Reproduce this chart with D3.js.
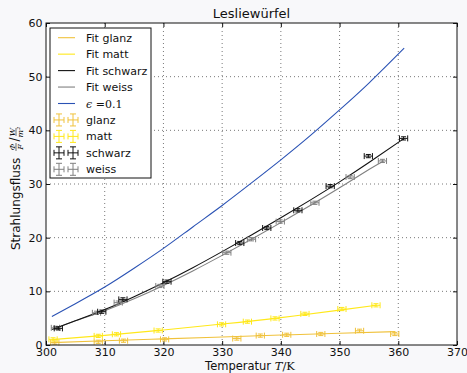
<!DOCTYPE html>
<html>
<head>
<meta charset="utf-8">
<script src="https://cdn.jsdelivr.net/npm/d3@7"></script>
<style>
  body { margin: 0; background: #f8f8fa; }
  svg { display: block; font-family: "DejaVu Sans", sans-serif; }
</style>
</head>
<body>
<svg id="chart" width="467" height="373"></svg>
<script>
// fit curves
const fitSchwarzT = [301, 305, 310, 315, 320, 325, 330, 335, 340, 345, 350, 355, 361];
const fitSchwarzV = [2.9, 4.5, 6.6, 9.0, 11.6, 14.4, 17.4, 20.5, 23.7, 27.0, 30.4, 34.0, 38.5];
const fitWeissT = [301.5, 305, 310, 315, 320, 325, 330, 335, 340, 345, 350, 355, 357.5];
const fitWeissV = [3.0, 4.5, 6.4, 8.6, 11.1, 13.8, 16.7, 19.7, 22.8, 26.0, 29.3, 32.7, 34.3];
const fitMattT = [301, 310, 320, 330, 340, 350, 356.3];
const fitMattV = [1.0, 1.8, 2.8, 3.9, 5.1, 6.5, 7.4];
const fitGlanzT = [301, 310, 320, 330, 340, 350, 359.5];
const fitGlanzV = [0.45, 0.8, 1.15, 1.5, 1.85, 2.2, 2.5];
const epsT = [301, 305, 310, 315, 320, 325, 330, 335, 340, 345, 350, 355, 361];
const epsV = [5.3, 7.7, 10.8, 14.3, 18.0, 22.0, 26.0, 30.2, 34.5, 39.0, 43.8, 48.8, 55.3];

// measured points
const glanzT = [301.5, 308.9, 313.2, 320.2, 332.5, 336.5, 341.0, 346.8, 353.4, 359.4];
const glanzV = [0.45, 0.6, 0.8, 1.05, 1.2, 1.75, 1.9, 2.05, 2.65, 2.05];
const mattT = [301.2, 308.9, 312.0, 319.1, 329.9, 334.3, 339.0, 344.1, 350.4, 356.2];
const mattV = [1.05, 1.7, 2.0, 2.7, 3.85, 4.35, 4.95, 5.8, 6.7, 7.4];
const schwarzT = [302.1, 309.5, 313.1, 320.6, 333.0, 337.6, 342.9, 348.4, 354.9, 360.9];
const schwarzV = [3.1, 6.2, 8.5, 11.8, 19.0, 21.8, 25.1, 29.6, 35.2, 38.5];
const weissT = [301.6, 308.6, 312.3, 319.4, 330.8, 335.0, 339.9, 345.8, 351.8, 357.3];
const weissV = [3.2, 6.0, 7.9, 11.0, 17.2, 19.7, 23.0, 26.5, 31.3, 34.3];
const xErr = 0.7;
const yErr = 0.3;

const xTicks = [300, 310, 320, 330, 340, 350, 360, 370];
const yTicks = [0, 10, 20, 30, 40, 50, 60];

const colGlanz = "#f0c23c";
const colMatt = "#ffe81a";
const colSchwarz = "#111111";
const colWeiss = "#808080";
const colEps = "#2a52b4";

const svg = d3.select("#chart");
const plotLeft = 46, plotRight = 457, plotTop = 23, plotBottom = 345;

const x = d3.scaleLinear().domain([300, 370]).range([plotLeft, plotRight]);
const y = d3.scaleLinear().domain([0, 60]).range([plotBottom, plotTop]);

svg.append("rect")
  .attr("x", plotLeft).attr("y", plotTop)
  .attr("width", plotRight - plotLeft).attr("height", plotBottom - plotTop)
  .attr("fill", "#ffffff");

// grid
const grid = svg.append("g")
  .attr("stroke", "#555")
  .attr("stroke-width", 0.8)
  .attr("stroke-dasharray", "1,3");
grid.selectAll(".gx").data(xTicks.slice(1, -1)).enter().append("line")
  .attr("x1", d => x(d)).attr("x2", d => x(d))
  .attr("y1", plotTop).attr("y2", plotBottom);
grid.selectAll(".gy").data(yTicks.slice(1, -1)).enter().append("line")
  .attr("x1", plotLeft).attr("x2", plotRight)
  .attr("y1", d => y(d)).attr("y2", d => y(d));

// axes, ticks pointing inward
const axisStyle = g => {
  g.select(".domain").remove();
  g.selectAll("text").attr("font-size", 11).attr("fill", "#111").attr("font-family", "DejaVu Sans");
  g.selectAll("line").attr("stroke", "#111");
};
svg.append("g").attr("transform", `translate(0,${plotBottom})`)
  .call(d3.axisBottom(x).tickValues(xTicks).tickSize(-4).tickPadding(3))
  .call(axisStyle);
svg.append("g").attr("transform", `translate(0,${plotTop})`)
  .call(d3.axisTop(x).tickValues(xTicks).tickSize(-4).tickFormat(""))
  .call(axisStyle);
svg.append("g").attr("transform", `translate(${plotLeft},0)`)
  .call(d3.axisLeft(y).tickValues(yTicks).tickSize(-4).tickPadding(3.5))
  .call(axisStyle);
svg.append("g").attr("transform", `translate(${plotRight},0)`)
  .call(d3.axisRight(y).tickValues(yTicks).tickSize(-4).tickFormat(""))
  .call(axisStyle);

// curves
const line = d3.line()
  .x(d => x(d[0]))
  .y(d => y(d[1]))
  .curve(d3.curveNatural);
const curves = [
  [fitGlanzT, fitGlanzV, colGlanz],
  [fitMattT, fitMattV, colMatt],
  [fitWeissT, fitWeissV, colWeiss],
  [fitSchwarzT, fitSchwarzV, colSchwarz],
  [epsT, epsV, colEps],
];
curves.forEach(([ts, vs, c]) => {
  svg.append("path")
    .datum(ts.map((t, i) => [t, vs[i]]))
    .attr("fill", "none")
    .attr("stroke", c)
    .attr("stroke-width", 1.1)
    .attr("d", line);
});

// error bars
function drawErrorbars(ts, vs, c) {
  const g = svg.append("g").attr("stroke", c).attr("stroke-width", 1).attr("fill", "none");
  ts.forEach((t, i) => {
    const v = vs[i];
    const x0 = x(t - xErr), x1 = x(t + xErr), yc = y(v);
    const y0 = y(v - yErr), y1 = y(v + yErr), xc = x(t);
    g.append("line").attr("x1", x0).attr("x2", x1).attr("y1", yc).attr("y2", yc);
    g.append("line").attr("x1", x0).attr("x2", x0).attr("y1", yc - 3).attr("y2", yc + 3);
    g.append("line").attr("x1", x1).attr("x2", x1).attr("y1", yc - 3).attr("y2", yc + 3);
    g.append("line").attr("x1", xc).attr("x2", xc).attr("y1", y0).attr("y2", y1);
    g.append("line").attr("x1", xc - 2.5).attr("x2", xc + 2.5).attr("y1", y0).attr("y2", y0);
    g.append("line").attr("x1", xc - 2.5).attr("x2", xc + 2.5).attr("y1", y1).attr("y2", y1);
  });
}
drawErrorbars(glanzT, glanzV, colGlanz);
drawErrorbars(mattT, mattV, colMatt);
drawErrorbars(weissT, weissV, colWeiss);
drawErrorbars(schwarzT, schwarzV, colSchwarz);

// frame
svg.append("rect")
  .attr("x", plotLeft).attr("y", plotTop)
  .attr("width", plotRight - plotLeft).attr("height", plotBottom - plotTop)
  .attr("fill", "none").attr("stroke", "#111").attr("stroke-width", 1);

// title and labels
svg.append("text")
  .attr("x", (plotLeft + plotRight) / 2).attr("y", 18)
  .attr("text-anchor", "middle").attr("font-size", 13).attr("fill", "#111")
  .text("Lesliewürfel");

const xl = svg.append("text")
  .attr("x", 250).attr("y", 369.5)
  .attr("text-anchor", "middle").attr("font-size", 11.5).attr("fill", "#111");
xl.append("tspan").text("Temperatur ");
xl.append("tspan").attr("font-family", "DejaVu Serif").attr("font-style", "italic").text("T");
xl.append("tspan").attr("font-family", "DejaVu Serif").text("/K");

const yl = svg.append("g").attr("transform", "translate(20,188) rotate(-90)");
yl.append("text").attr("x", -62).attr("y", 0)
  .attr("font-size", 12).attr("fill", "#111")
  .text("Strahlungsfluss");
const frac = (g, xx, num, den) => {
  g.append("text").attr("x", xx).attr("y", -5.5).attr("text-anchor", "middle")
    .attr("font-size", 8).attr("font-family", "DejaVu Serif").attr("font-style", "italic").text(num);
  g.append("line").attr("x1", xx - 4).attr("x2", xx + 4).attr("y1", -4).attr("y2", -4)
    .attr("stroke", "#111").attr("stroke-width", 0.6);
  g.append("text").attr("x", xx).attr("y", 3).attr("text-anchor", "middle")
    .attr("font-size", 8).attr("font-family", "DejaVu Serif").attr("font-style", "italic").text(den);
};
frac(yl, 41, "Φ", "F");
yl.append("text").attr("x", 46.5).attr("y", -1).attr("font-size", 12).attr("font-family", "DejaVu Serif").attr("fill", "#111").text("/");
frac(yl, 56, "W", "m²");

// legend
const lg = svg.append("g");
lg.append("rect")
  .attr("x", 50).attr("y", 28).attr("width", 101).attr("height", 150)
  .attr("fill", "#ffffff").attr("stroke", "#111").attr("stroke-width", 1);
const lineEntries = [
  ["Fit glanz", colGlanz],
  ["Fit matt", colMatt],
  ["Fit schwarz", colSchwarz],
  ["Fit weiss", colWeiss],
  ["eps", colEps],
];
const ebEntries = [
  ["glanz", colGlanz],
  ["matt", colMatt],
  ["schwarz", colSchwarz],
  ["weiss", colWeiss],
];
const rowY = i => 37.7 + i * 16.45;
lineEntries.forEach(([name, c], i) => {
  const yy = rowY(i);
  lg.append("line").attr("x1", 58).attr("x2", 75).attr("y1", yy).attr("y2", yy)
    .attr("stroke", c).attr("stroke-width", 1.1);
  const t = lg.append("text").attr("x", 86).attr("y", yy + 4).attr("font-size", 11).attr("fill", "#111");
  if (name === "eps") {
    t.attr("font-family", "DejaVu Serif");
    t.append("tspan").attr("font-style", "italic").text("ϵ");
    t.append("tspan").text(" =0.1");
  } else {
    t.text(name);
  }
});
ebEntries.forEach(([name, c], i) => {
  const yy = rowY(i + 5);
  [59, 73].forEach(xc => {
    const g = lg.append("g").attr("stroke", c).attr("stroke-width", 1);
    g.append("line").attr("x1", xc - 5).attr("x2", xc + 5).attr("y1", yy).attr("y2", yy);
    g.append("line").attr("x1", xc - 5).attr("x2", xc - 5).attr("y1", yy - 3).attr("y2", yy + 3);
    g.append("line").attr("x1", xc + 5).attr("x2", xc + 5).attr("y1", yy - 3).attr("y2", yy + 3);
    g.append("line").attr("x1", xc).attr("x2", xc).attr("y1", yy - 6).attr("y2", yy + 6);
    g.append("line").attr("x1", xc - 3).attr("x2", xc + 3).attr("y1", yy - 6).attr("y2", yy - 6);
    g.append("line").attr("x1", xc - 3).attr("x2", xc + 3).attr("y1", yy + 6).attr("y2", yy + 6);
  });
  lg.append("text").attr("x", 86).attr("y", yy + 4).attr("font-size", 11).attr("fill", "#111").text(name);
});
</script>
</body>
</html>
